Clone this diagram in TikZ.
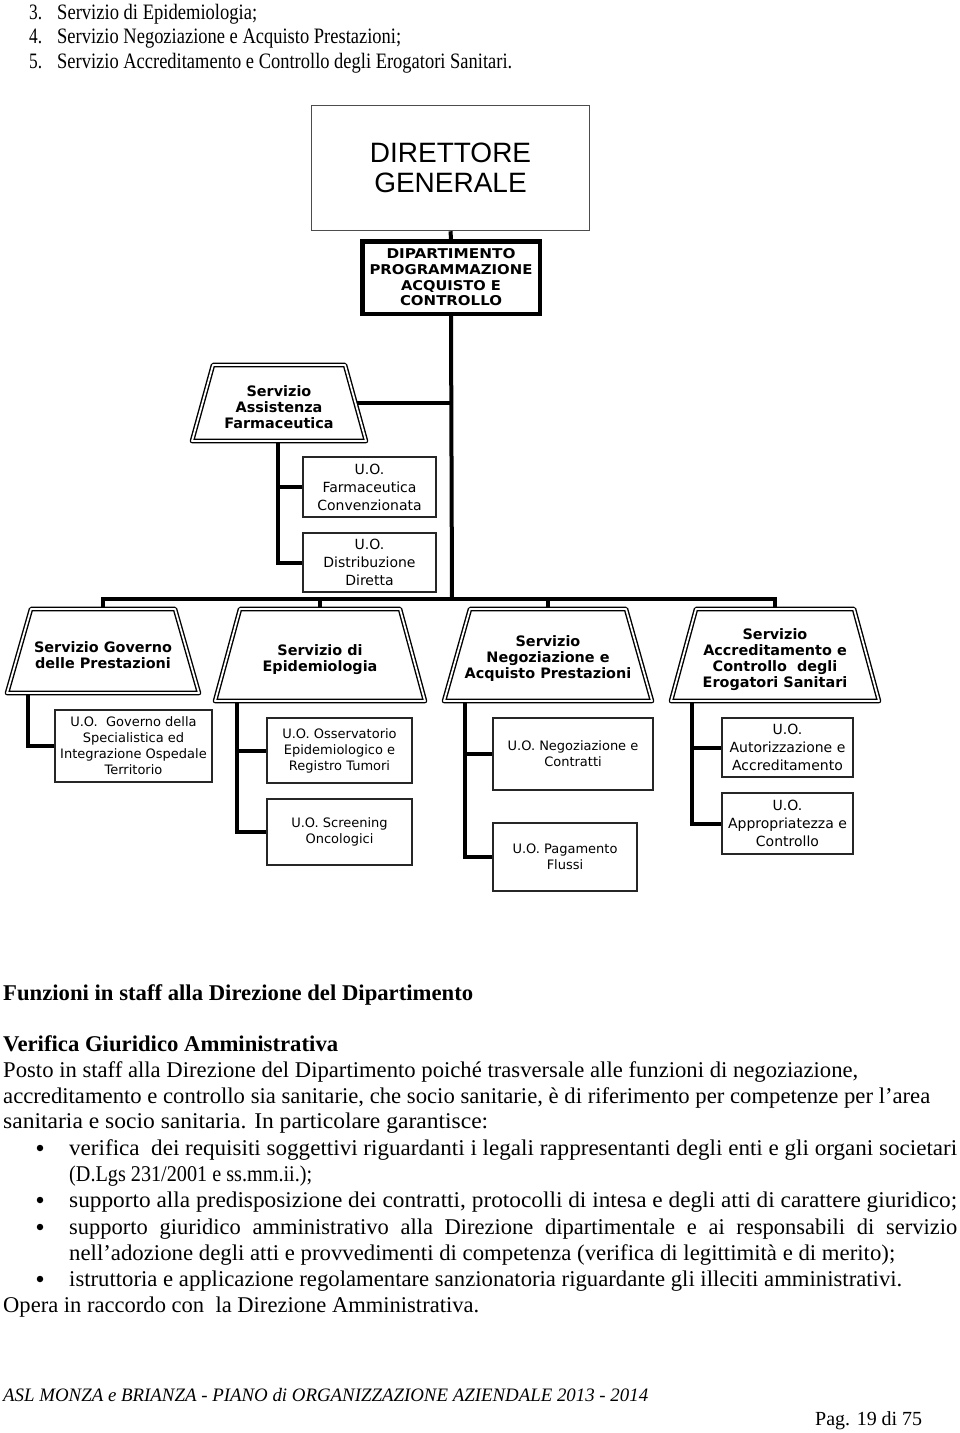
\documentclass[tikz,border=0pt]{standalone}
\usepackage{graphicx}
\usepackage{fontspec}
\setmainfont{Liberation Serif}
\newfontfamily\dgfont{Liberation Sans}
\newfontfamily\chartfont{DejaVu Sans}
\usetikzlibrary{calc}
\newsavebox\fitbox
\newcommand\fitto[2]{\sbox\fitbox{#2}\pgfmathsetmacro\fitr{#1/\the\wd\fitbox}\scalebox{\fitr}[1]{\usebox\fitbox}}
\newcommand\justto[2]{\makebox[#1pt][s]{#2}}
\newcommand\bodyfont{\fontsize{22.5}{26}\selectfont}
\newcommand\listfont{\fontsize{22}{24}\selectfont}
\tikzset{
  conn/.style={line width=4pt},
  trap/.style={draw=black, line width=1.4pt, double=white, double distance=1.8pt, line join=round, fill=white},
  uobox/.style={draw=black!85, line width=2pt, fill=white, inner sep=0, align=center, font=\chartfont\fontsize{13}{16}\selectfont},
  uoboxL/.style={uobox, font=\chartfont\fontsize{14}{18}\selectfont},
  ttl/.style={align=center, inner sep=0, font=\chartfont\bfseries\fontsize{14.4}{16}\selectfont},
  txt/.style={anchor=base west, inner sep=0},
  bul/.style={circle, fill=black, inner sep=0, minimum size=6.5pt},
}
\begin{document}
\begin{tikzpicture}[x=1pt,y=-1pt]
\fill[white] (0,0) rectangle (960,1433);
\useasboundingbox (0,0) rectangle (960,1433);

% ---------- top list ----------
\node[txt] (n3) at (29,19) {\listfont\fitto{13}{3.}};
\node[txt] (l3) at (57,19) {\listfont\fitto{200}{Servizio di Epidemiologia;}};
\node[txt] (n4) at (29,43.5) {\listfont\fitto{13}{4.}};
\node[txt] (l4) at (57,43.5) {\listfont\fitto{344}{Servizio Negoziazione e Acquisto Prestazioni;}};
\node[txt] (n5) at (29,68) {\listfont\fitto{13}{5.}};
\node[txt] (l5) at (57,68) {\listfont\fitto{455}{Servizio Accreditamento e Controllo degli Erogatori Sanitari.}};

% ---------- chart: boxes ----------
\node[draw=black!70, line width=1.5pt, minimum width=278, minimum height=125, inner sep=0, align=center,
      font=\dgfont\fontsize{28}{30}\selectfont] (dg) at (450.5,168) {DIRETTORE\\GENERALE};
\node[draw=black, line width=4.5pt, minimum width=177.5, minimum height=72.5, inner sep=0, align=center,
      font=\chartfont\bfseries\fontsize{13.5}{15.7}\selectfont] (dept) at (451,277.5)
      {\fitto{129}{DIPARTIMENTO}\\\fitto{163}{PROGRAMMAZIONE}\\\fitto{100}{ACQUISTO E}\\\fitto{102}{CONTROLLO}};

\coordinate (j1) at (452,599);
\coordinate (farmR) at (356,403);
\coordinate (farmB) at (278,441);
\coordinate (govTop) at (103,609);
\coordinate (epiTop) at (320,609);
\coordinate (negTop) at (548,609);
\coordinate (accTop) at (775,609);
\coordinate (govB) at (28,693);
\coordinate (epiB) at (237,701);
\coordinate (negB) at (465,701);
\coordinate (accB) at (692,701);

\node[uoboxL, minimum width=133, minimum height=60] (uoFarm) at (369.5,487) {U.O.\\Farmaceutica\\Convenzionata};
\node[uoboxL, minimum width=133, minimum height=59] (uoDist) at (369.5,562.5) {U.O.\\Distribuzione\\Diretta};
\node[uobox, minimum width=157, minimum height=72] (uoGov) at (133.5,746) {U.O.\ \ Governo della\\Specialistica ed\\Integrazione Ospedale\\Territorio};
\node[uobox, minimum width=145, minimum height=65] (uoOss) at (339.5,750.5) {U.O. Osservatorio\\Epidemiologico e\\Registro Tumori};
\node[uobox, minimum width=145, minimum height=66] (uoScr) at (339.5,832) {U.O. Screening\\Oncologici};
\node[uobox, minimum width=160, minimum height=72] (uoNeg) at (573,754) {U.O. Negoziazione e\\Contratti};
\node[uobox, minimum width=144, minimum height=68] (uoPag) at (565,857) {U.O. Pagamento\\Flussi};
\node[uoboxL, minimum width=131, minimum height=59] (uoAut) at (787.5,747.5) {U.O.\\Autorizzazione e\\Accreditamento};
\node[uoboxL, minimum width=131, minimum height=61] (uoApp) at (787.5,823.5) {U.O.\\Appropriatezza e\\Controllo};

% ---------- connectors ----------
\draw[conn] (dg.south) -- (dept.north);
\draw[conn] (dept.south) -- (j1);
\draw[conn] (farmR) -- (farmR -| j1);
\draw[conn] (govTop) -- (govTop |- j1) -- (accTop |- j1) -- (accTop);
\draw[conn] (epiTop) -- (epiTop |- j1);
\draw[conn] (negTop) -- (negTop |- j1);
\draw[conn] (farmB) |- (uoFarm.west);
\draw[conn] (farmB) |- (uoDist.west);
\draw[conn] (govB) |- (uoGov.west);
\draw[conn] (epiB) |- (uoOss.west);
\draw[conn] (epiB) |- (uoScr.west);
\draw[conn] (negB) |- (uoNeg.west);
\draw[conn] (negB) |- (uoPag.west);
\draw[conn] (accB) |- (uoAut.west);
\draw[conn] (accB) |- (uoApp.west);

% ---------- trapezoids ----------
\draw[trap] (213,365) -- (345,365) -- (366,441) -- (192,441) -- cycle;
\draw[trap] (31,609) -- (175,609) -- (199,693) -- (7,693) -- cycle;
\draw[trap] (240,609) -- (400,609) -- (425,701) -- (215,701) -- cycle;
\draw[trap] (470,609) -- (626,609) -- (652,701) -- (444,701) -- cycle;
\draw[trap] (696,609) -- (854,609) -- (879,701) -- (671,701) -- cycle;

\node[ttl] (farmT) at (279,407) {Servizio\\Assistenza\\Farmaceutica};
\node[ttl] (govT) at (103,655) {Servizio Governo\\delle Prestazioni};
\node[ttl] (epiT) at (320,659.5) {Servizio di\\Epidemiologia};
\node[ttl] (negT) at (548,659) {Servizio\\Negoziazione e\\Acquisto Prestazioni};
\node[ttl] (accT) at (775,659.5) {Servizio\\Accreditamento e\\Controllo\ \ degli\\Erogatori Sanitari};

% ---------- body text ----------
\node[txt] (h1) at (3,1000) {\bodyfont\bfseries\fitto{470}{Funzioni in staff alla Direzione del Dipartimento}};
\node[txt] (h2) at (3,1051) {\bodyfont\bfseries\fitto{335}{Verifica Giuridico Amministrativa}};
\node[txt] (p1) at (3,1077) {\bodyfont\fitto{855}{Posto in staff alla Direzione del Dipartimento poiché trasversale alle funzioni di negoziazione,}};
\node[txt] (p2) at (3,1103) {\bodyfont\fitto{927}{accreditamento e controllo sia sanitarie, che socio sanitarie, è di riferimento per competenze per l’area}};
\node[txt] (p3) at (3,1128) {\bodyfont\fitto{485}{sanitaria e socio sanitaria. In particolare garantisce:}};
\node[bul] (b1) at (40,1148) {};
\node[txt] (b1a) at (69,1155) {\bodyfont\fitto{888}{verifica\ \ dei requisiti soggettivi riguardanti i legali rappresentanti degli enti e gli organi societari}};
\node[txt] (b1b) at (69,1181) {\bodyfont\fitto{243}{(D.Lgs 231/2001 e ss.mm.ii.);}};
\node[bul] (b2) at (40,1200) {};
\node[txt] (b2a) at (69,1207) {\bodyfont\fitto{888}{supporto alla predisposizione dei contratti, protocolli di intesa e degli atti di carattere giuridico;}};
\node[bul] (b3) at (40,1227) {};
\node[txt] (b3a) at (69,1234) {\bodyfont\justto{888}{supporto giuridico amministrativo alla Direzione dipartimentale e ai responsabili di servizio}};
\node[txt] (b3b) at (69,1260) {\bodyfont\fitto{826}{nell’adozione degli atti e provvedimenti di competenza (verifica di legittimità e di merito);}};
\node[bul] (b4) at (40,1279) {};
\node[txt] (b4a) at (69,1286) {\bodyfont\fitto{833}{istruttoria e applicazione regolamentare sanzionatoria riguardante gli illeciti amministrativi.}};
\node[txt] (p4) at (3,1312) {\bodyfont\fitto{476}{Opera in raccordo con\ \ la Direzione Amministrativa.}};

\node[txt] (foot) at (3,1401) {\fontsize{19}{22}\selectfont\itshape\fitto{645}{ASL MONZA e BRIANZA - PIANO di ORGANIZZAZIONE AZIENDALE 2013 - 2014}};
\node[txt] (pag) at (815,1425) {\fontsize{20}{24}\selectfont\fitto{107}{Pag. 19 di 75}};
\end{tikzpicture}
\end{document}
